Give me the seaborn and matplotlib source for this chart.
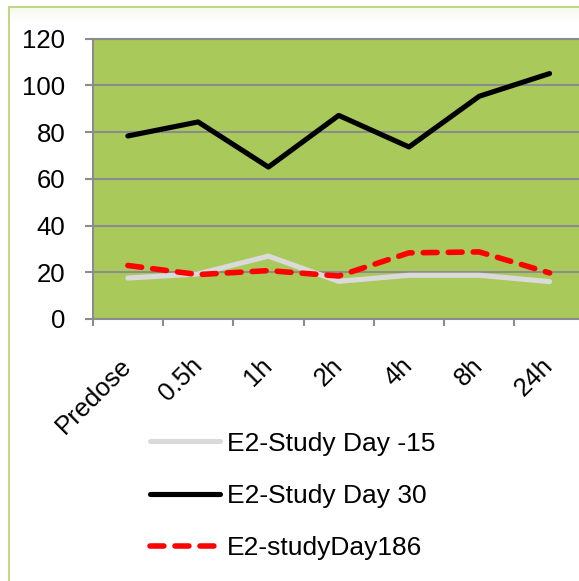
import matplotlib
matplotlib.use("Agg")
import matplotlib.pyplot as plt
import seaborn as sns
import pandas as pd
from matplotlib.patches import Rectangle

# Estradiol (E2) by sampling time point
timepoints = ["Predose", "0.5h", "1h", "2h", "4h", "8h", "24h"]
day_minus15 = [17.5, 19.3, 26.9, 16.1, 18.7, 18.7, 16.0]
day_30 = [78.3, 84.3, 65.0, 87.1, 73.6, 95.3, 105.0]
day_186 = [22.9, 19.0, 20.7, 18.4, 28.3, 28.7, 19.7]
series_labels = ["E2-Study Day -15", "E2-Study Day 30", "E2-studyDay186"]
y_ticks = [0, 20, 40, 60, 80, 100, 120]

sns.set_theme(style="ticks")
plt.rcParams["font.family"] = ["Liberation Sans", "DejaVu Sans"]
plt.rcParams["text.color"] = "black"

W, H = 579, 581
fig = plt.figure(figsize=(W / 100, H / 100), dpi=100)
fig.patch.set_facecolor("white")

# chart frame (light green outline, partly outside the canvas)
frame = Rectangle((8.5 / W, -0.2), 1.5, 1.2 - 6.5 / H, transform=fig.transFigure,
                  facecolor="none", edgecolor="#a8d05e", lw=1.1, zorder=0)
fig.add_artist(frame)
for i, a in enumerate([0.55, 0.45, 0.35, 0.26, 0.18, 0.11, 0.06]):
    fig.add_artist(Rectangle((9.5 / W, 1 - (7.5 + 2 * (i + 1)) / H), 1.2, 2 / H,
                             transform=fig.transFigure, facecolor="#f1f3e2",
                             edgecolor="none", alpha=a, zorder=0))

ax = fig.add_axes([92.7 / W, 1 - 319 / H, 492 / W, (319 - 38.5) / H])
ax.set_facecolor("#a9c95b")

grid_grey = "#8c8c8c"
styles = [
    dict(color="#dadada", lw=3.7, linestyle="-"),
    dict(color="black", lw=3.7, linestyle="-"),
    dict(color="#ff0000", lw=4.0, linestyle=(0, (2.5, 2.0))),
]
for values, label, st in zip([day_minus15, day_30, day_186], series_labels, styles):
    df = pd.DataFrame({"time": timepoints, "E2": values})
    sns.lineplot(data=df, x="time", y="E2", ax=ax, sort=False, label=label,
                 color=st["color"], linewidth=st["lw"], linestyle=st["linestyle"],
                 solid_capstyle="round", dash_capstyle="round", zorder=3)

ax.set_xlim(-0.5, len(timepoints) - 0.5)
ax.set_ylim(0, 120)
ax.set_yticks(y_ticks)
ax.set_yticklabels([str(v) for v in y_ticks])
ax.set_xticks(range(len(timepoints)))
ax.set_xticklabels(timepoints, rotation=45, ha="right", va="center",
                   rotation_mode="anchor")
ax.set_xticks([i - 0.5 for i in range(len(timepoints) + 1)], minor=True)
ax.set_xlabel("")
ax.set_ylabel("")

ax.yaxis.grid(True, color=grid_grey, lw=1.5, zorder=1)
ax.set_axisbelow(True)
for side in ["left", "bottom", "top"]:
    ax.spines[side].set_color(grid_grey)
    ax.spines[side].set_linewidth(1.5)
ax.spines["right"].set_visible(False)

ax.tick_params(axis="y", which="major", length=5.8, width=1.5, color=grid_grey,
               pad=14, labelsize=18.5, labelcolor="black", direction="out")
ax.tick_params(axis="x", which="major", length=0, pad=31, labelsize=18.5,
               labelcolor="black")
ax.tick_params(axis="x", which="minor", length=5, width=1.5, color=grid_grey,
               direction="out", bottom=True)

handles, labels = ax.get_legend_handles_labels()
leg = ax.legend(handles, labels, loc="upper left",
                bbox_to_anchor=(150 / W, 1 - 431.5 / H), bbox_transform=fig.transFigure,
                frameon=False, fontsize=19, handlelength=2.65, handletextpad=0.25,
                labelspacing=1.08, borderpad=0, borderaxespad=0)
for t in leg.get_texts():
    t.set_color("black")

fig.savefig("out.png", dpi=100, facecolor="white")
